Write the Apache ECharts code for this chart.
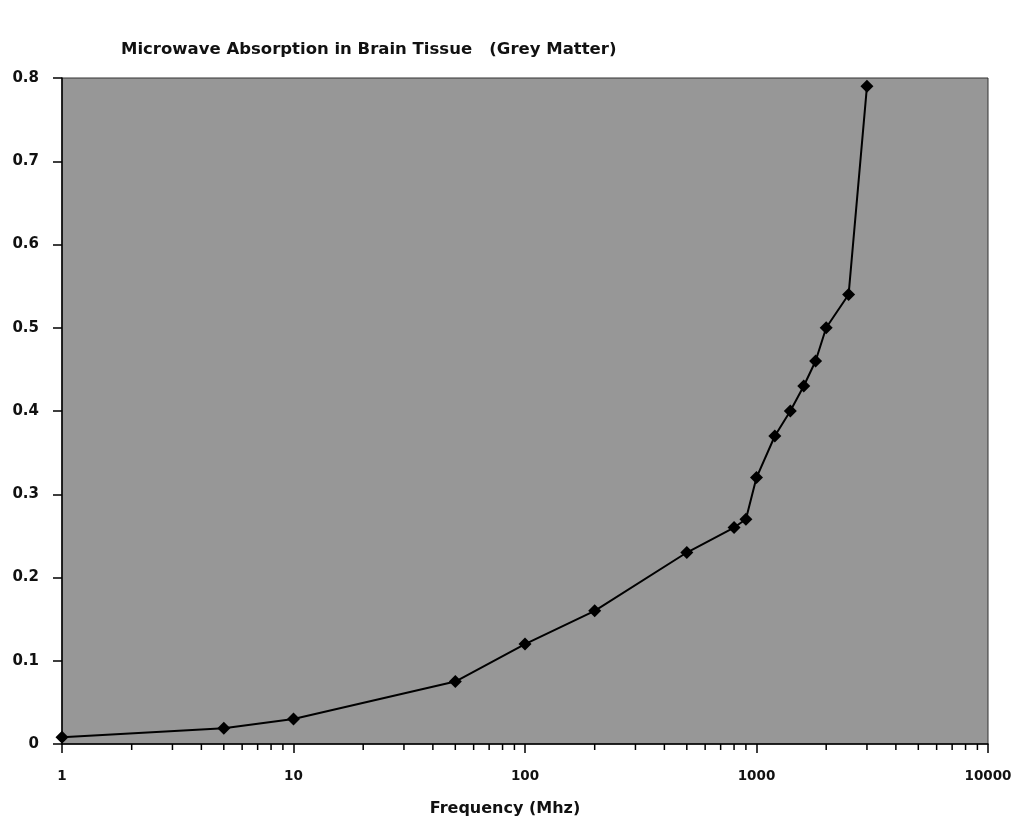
<!DOCTYPE html>
<html>
<head>
<meta charset="utf-8">
<script src="https://cdn.jsdelivr.net/npm/echarts@6/dist/echarts.min.js"></script>
<style>
  html, body { margin: 0; padding: 0; background: #fff; }
  #chart { width: 1012px; height: 829px; }
</style>
</head>
<body>
<div id="chart"></div>
<script>
// data
var freqMhz = [1, 5, 10, 50, 100, 200, 500, 800, 900, 1000, 1200, 1400, 1600, 1800, 2000, 2500, 3000];
var absorption = [0.008, 0.019, 0.03, 0.075, 0.12, 0.16, 0.23, 0.26, 0.27, 0.32, 0.37, 0.40, 0.43, 0.46, 0.50, 0.54, 0.79];
var decades = [1, 10, 100, 1000];
var minorSteps = [2, 3, 4, 5, 6, 7, 8, 9];

var pts = [];
for (var i = 0; i < freqMhz.length; i++) {
	pts.push([freqMhz[i], absorption[i]]);
}
// minor tick positions for the log axis (2..9 in each decade)
var minorTicks = [];
for (var d = 0; d < decades.length; d++) {
	for (var m = 0; m < minorSteps.length; m++) {
		minorTicks.push([decades[d] * minorSteps[m], 0]);
	}
}

var fontName = 'DejaVu Sans';

var myChart = echarts.init(document.getElementById('chart'));
var option = {
	backgroundColor: '#fff',
	animation: false,
	title: {
		text: 'Microwave Absorption in Brain Tissue   (Grey Matter)',
		left: 116,
		top: 36,
		textStyle: { fontFamily: fontName, fontWeight: 'bold', fontSize: 16.5, color: '#111' }
	},
	grid: {
		left: 62, right: 24, top: 78, bottom: 85,
		outerBoundsMode: 'none',
		containLabel: false,
		show: true,
		backgroundColor: '#979797',
		borderColor: '#333',
		borderWidth: 1
	},
	xAxis: {
		type: 'log',
		logBase: 10,
		min: 1,
		max: 10000,
		name: 'Frequency (Mhz)',
		nameLocation: 'middle',
		nameGap: 57,
		nameTextStyle: { fontFamily: fontName, fontWeight: 'bold', fontSize: 16, color: '#111', padding: [0, 40, 0, 0] },
		axisLine: { lineStyle: { color: '#000', width: 1.5 } },
		axisTick: { show: true, length: 9, lineStyle: { color: '#000', width: 1.5 } },
		axisLabel: {
			margin: 25,
			fontFamily: fontName, fontWeight: 'bold', fontSize: 13.5, color: '#111',
			formatter: function (v) { return String(v); }
		},
		splitLine: { show: false }
	},
	yAxis: {
		type: 'value',
		min: 0,
		max: 0.8,
		interval: 0.1,
		axisLine: { show: true, lineStyle: { color: '#000', width: 1.5 } },
		axisTick: { show: true, length: 9, lineStyle: { color: '#000', width: 1.5 } },
		axisLabel: {
			margin: 23,
			fontFamily: fontName, fontWeight: 'bold', fontSize: 15, color: '#111',
			formatter: function (v) { return v === 0 ? '0' : v.toFixed(1); }
		},
		splitLine: { show: false }
	},
	series: [
		{
			type: 'line',
			data: pts,
			symbol: 'diamond',
			symbolSize: 13,
			itemStyle: { color: '#000' },
			lineStyle: { color: '#000', width: 2 },
			z: 3
		},
		{
			// short minor ticks below the log axis
			type: 'custom',
			data: minorTicks,
			silent: true,
			clip: false,
			renderItem: function (params, api) {
				var p = api.coord([api.value(0), 0]);
				return {
					type: 'line',
					shape: { x1: p[0], y1: p[1], x2: p[0], y2: p[1] + 6 },
					style: { stroke: '#000', lineWidth: 1.5 }
				};
			},
			z: 4
		}
	]
};
myChart.setOption(option);
</script>
</body>
</html>
